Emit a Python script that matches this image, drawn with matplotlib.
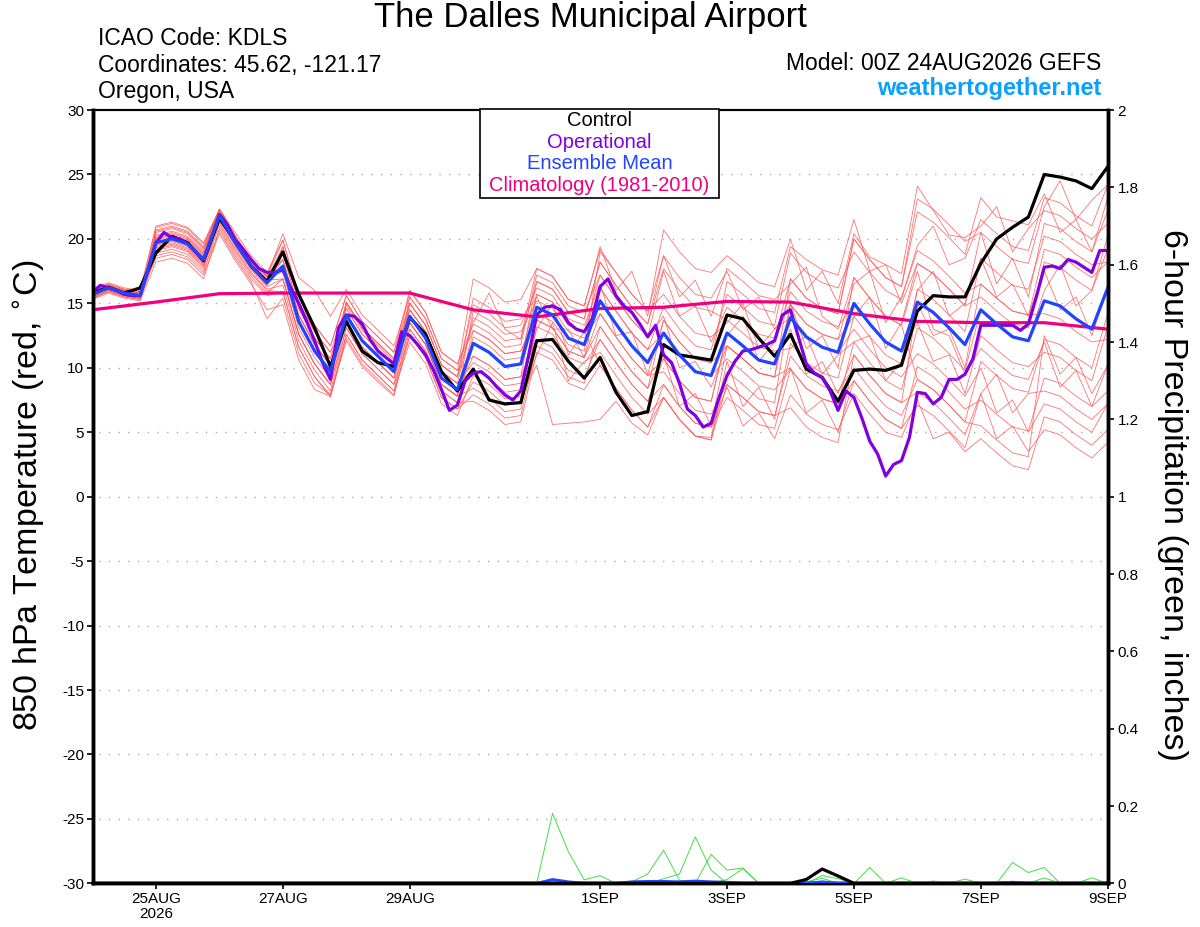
import matplotlib
matplotlib.use("Agg")
import matplotlib.pyplot as plt
import numpy as np
from matplotlib.patches import Rectangle

plt.rcParams['font.family'] = ['Liberation Sans', 'DejaVu Sans']
plt.rcParams['axes.unicode_minus'] = False

# ---- data ----
# 6-hourly steps from 00Z 24AUG to 00Z 9SEP
hours = np.arange(65) * 6
op_hours = np.arange(129) * 3

ens_mean = [15.7, 16.2, 15.8, 15.6, 19.7, 20.0, 19.6, 18.4, 21.8, 19.7, 17.9, 16.6,
            17.9, 13.6, 11.3, 9.7, 14.1, 12.1, 10.9, 9.7, 14.0, 12.3, 9.2, 8.3,
            11.9, 11.2, 10.1, 10.3, 14.7, 14.1, 12.3, 11.8, 15.2, 13.4, 11.7, 10.4,
            12.7, 11.0, 9.7, 9.4, 12.7, 11.7, 10.6, 10.3, 13.9, 12.4, 11.6, 11.2,
            15.0, 13.4, 12.0, 11.3, 15.1, 14.3, 13.1, 11.8, 14.5, 13.4, 12.4, 12.1,
            15.2, 14.8, 13.8, 13.0, 16.2]

control = [15.8, 16.25, 15.8, 16.2, 18.9, 20.2, 19.7, 18.3, 21.6, 19.8, 17.9, 16.7,
           19.0, 15.7, 13.1, 10.1, 13.6, 11.3, 10.4, 10.1, 13.9, 12.6, 9.7, 8.2,
           9.9, 7.5, 7.2, 7.3, 12.1, 12.2, 10.5, 9.2, 10.8, 8.1, 6.3, 6.6,
           11.8, 11.0, 10.8, 10.6, 14.1, 13.8, 12.3, 10.9, 12.6, 9.9, 9.25, 7.4,
           9.8, 9.9, 9.8, 10.2, 14.4, 15.6, 15.5, 15.5, 18.1, 20.0, 20.9, 21.7,
           25.0, 24.8, 24.5, 23.9, 25.6]

# operational run, 3-hourly
operational = [15.9, 16.4, 16.2, 16.0, 15.7, 15.6, 15.6, 17.6, 19.7, 20.5, 20.1, 20.0,
               19.6, 19.0, 18.4, 20.1, 21.9, 21.1, 19.9, 19.2, 18.4, 17.7, 17.4, 17.4,
               17.6, 16.2, 15.0, 13.6, 12.1, 10.4, 9.1, 13.1, 14.1, 14.0, 13.4, 12.2,
               11.3, 10.8, 10.3, 12.8, 12.5, 11.8, 11.0, 9.8, 8.3, 6.7, 7.1, 9.0,
               9.6, 9.7, 9.2, 8.5, 7.9, 7.5, 8.2, 11.0, 14.1, 14.7, 14.8, 14.5,
               13.5, 13.0, 12.8, 13.8, 16.3, 16.9, 15.6, 14.8, 14.3, 13.4, 12.4, 13.3,
               11.0, 10.4, 8.8, 6.8, 6.3, 5.4, 5.7, 7.7, 9.4, 10.5, 11.3, 11.4,
               11.6, 11.8, 12.1, 14.1, 14.5, 12.4, 10.3, 9.6, 9.25, 8.2, 6.7, 8.2,
               7.7, 6.1, 4.3, 3.3, 1.6, 2.5, 2.8, 4.6, 8.1, 8.0, 7.2, 7.7,
               9.1, 9.1, 9.5, 10.7, 13.3, 13.3, 13.3, 13.3, 13.3, 12.9, 13.4, 15.5,
               17.8, 17.9, 17.7, 18.4, 18.2, 17.8, 17.4, 19.1, 19.1]

# climatology (1981-2010), daily at 00Z
clim_hours = np.arange(17) * 24
climatology = [14.5, 15.1, 15.75, 15.8, 15.8, 15.8, 14.5, 13.95, 14.6, 14.7, 15.15,
               15.1, 14.2, 13.6, 13.5, 13.5, 13.0]

# ensemble members (red)
members = [
    [16.0, 16.5, 16.1, 15.9, 20.9, 21.2, 20.8, 19.6, 22.3, 20.5, 18.7, 17.4, 19.9, 15.6, 13.3, 11.7,
     15.6, 13.6, 12.4, 11.2, 15.0, 13.3, 10.2, 9.3, 13.5, 15.8, 13.0, 12.2, 16.7, 16.1, 14.3, 13.8,
     18.2, 16.4, 14.7, 13.4, 18.7, 15.5, 16.8, 14.0, 17.7, 16.7, 15.6, 15.3, 16.5, 17.8, 14.0, 13.0,
     17.0, 15.4, 14.0, 13.3, 17.5, 13.0, 12.5, 9.5, 11.5, 10.4, 9.4, 9.1, 12.0, 8.5, 9.8, 7.0, 10.2],
    [15.4, 15.9, 15.5, 15.3, 18.7, 19.0, 18.6, 17.4, 21.3, 19.2, 17.4, 16.1, 16.4, 12.1, 9.8, 8.2,
     13.1, 11.1, 9.9, 8.7, 12.5, 10.8, 7.7, 6.8, 8.9, 8.2, 7.1, 7.3, 11.0, 13.5, 9.0, 10.5,
     11.2, 9.4, 7.7, 6.4, 7.7, 6.0, 4.7, 4.6, 10.5, 7.0, 8.5, 6.0, 11.9, 10.4, 9.6, 9.2,
     14.0, 15.5, 11.5, 13.5, 18.1, 17.3, 16.1, 14.8, 20.5, 16.5, 18.5, 15.5, 21.2, 20.8, 19.8, 19.0, 23.2],
    [15.9, 16.4, 16.0, 15.8, 20.2, 20.5, 20.1, 18.9, 22.3, 20.2, 18.4, 17.1, 18.9, 14.6, 12.3, 10.7,
     14.6, 12.6, 11.4, 10.2, 14.5, 12.8, 9.7, 8.8, 13.9, 13.2, 12.1, 12.3, 17.7, 17.1, 15.3, 14.8,
     19.4, 16.0, 17.5, 14.0, 20.7, 19.0, 17.7, 17.4, 18.7, 17.7, 16.6, 16.3, 20.0, 16.0, 17.5, 15.0,
     20.4, 18.6, 18.0, 17.3, 24.1, 22.2, 20.3, 20.1, 21.0, 22.5, 19.0, 20.8, 22.2, 21.8, 20.8, 20.0, 21.2],
    [15.5, 16.0, 15.6, 15.4, 18.9, 19.2, 18.8, 17.6, 20.6, 18.5, 16.7, 13.8, 15.4, 11.1, 8.8, 7.9,
     12.1, 10.1, 8.9, 7.8, 13.0, 11.3, 8.2, 7.3, 7.4, 6.7, 5.6, 5.8, 11.2, 10.6, 8.8, 8.3,
     10.2, 8.4, 6.7, 5.4, 8.7, 7.0, 5.7, 5.4, 8.5, 5.5, 6.5, 4.5, 7.9, 6.4, 5.6, 5.2,
     8.0, 6.4, 5.0, 4.6, 7.5, 4.5, 5.0, 3.5, 4.5, 3.4, 2.4, 2.1, 6.2, 5.8, 4.8, 4.0, 5.2],
    [15.8, 16.3, 15.9, 15.7, 20.0, 20.3, 19.9, 18.7, 21.8, 19.7, 17.9, 16.6, 18.4, 14.1, 11.8, 10.2,
     15.1, 13.1, 11.9, 10.7, 16.0, 14.3, 11.2, 10.3, 12.9, 12.2, 11.1, 11.3, 13.7, 13.1, 11.3, 10.8,
     13.2, 11.4, 9.7, 8.4, 11.0, 7.0, 8.0, 5.5, 11.7, 10.7, 9.6, 9.3, 14.9, 13.4, 12.6, 12.2,
     16.5, 17.5, 13.5, 15.5, 19.1, 18.3, 17.1, 15.8, 16.5, 15.4, 14.4, 14.1, 17.5, 14.5, 15.5, 12.5, 16.2],
    [15.6, 16.1, 15.7, 15.5, 19.4, 19.7, 19.3, 18.1, 21.5, 19.4, 17.6, 16.3, 16.9, 12.6, 10.3, 8.7,
     13.6, 11.6, 10.4, 9.2, 14.5, 12.8, 9.7, 8.8, 9.9, 9.2, 8.1, 8.3, 13.0, 15.0, 11.0, 12.8,
     16.2, 14.4, 12.7, 11.4, 14.7, 13.0, 11.7, 11.4, 15.7, 14.7, 13.6, 13.3, 18.9, 17.4, 16.6, 16.2,
     19.0, 17.4, 16.0, 15.3, 19.5, 21.0, 18.0, 18.5, 21.5, 20.4, 19.4, 19.1, 23.2, 22.8, 21.8, 21.0, 24.2],
    [16.1, 16.6, 16.2, 16.0, 21.0, 21.3, 20.9, 19.7, 22.3, 20.2, 18.4, 17.1, 20.4, 17.0, 16.0, 14.0,
     16.1, 14.1, 12.9, 11.7, 15.5, 13.8, 10.7, 9.8, 16.9, 16.2, 15.1, 15.3, 17.7, 17.1, 15.3, 14.8,
     19.2, 17.4, 15.7, 14.4, 15.7, 14.0, 12.7, 12.4, 13.5, 15.0, 11.5, 13.0, 13.9, 12.4, 11.6, 11.2,
     13.0, 11.4, 10.0, 9.3, 11.1, 10.3, 9.1, 7.8, 10.0, 6.5, 7.5, 5.0, 7.2, 6.8, 5.8, 5.0, 7.2],
    [15.3, 15.8, 15.4, 15.2, 18.2, 18.5, 18.1, 16.9, 20.8, 18.7, 16.9, 15.6, 15.9, 11.6, 9.3, 7.7,
     12.6, 10.6, 9.4, 8.2, 12.0, 10.3, 7.2, 6.3, 9.4, 8.7, 7.6, 7.8, 10.2, 5.6, 5.7, 5.8,
     6.0, 7.4, 5.7, 4.8, 7.7, 6.0, 4.7, 4.4, 8.7, 7.7, 6.6, 6.3, 10.9, 9.4, 8.6, 8.2,
     10.0, 8.4, 7.0, 6.3, 9.1, 8.3, 7.1, 5.8, 10.5, 9.4, 8.4, 8.1, 12.2, 11.8, 10.8, 10.0, 14.2],
    [15.7, 16.2, 15.8, 15.6, 20.3, 20.6, 20.2, 19.0, 22.3, 20.2, 18.4, 17.1, 18.4, 14.1, 11.8, 10.2,
     14.1, 12.1, 10.9, 9.7, 13.5, 11.8, 8.7, 7.8, 12.4, 11.7, 10.6, 10.8, 15.7, 15.1, 13.3, 12.8,
     17.2, 15.4, 13.7, 12.4, 17.5, 14.0, 14.8, 12.0, 14.7, 13.7, 12.6, 12.3, 16.9, 15.4, 14.6, 14.2,
     20.0, 18.4, 17.0, 16.3, 22.1, 21.3, 20.1, 18.8, 23.2, 21.7, 21.4, 21.1, 23.5, 20.5, 21.5, 19.0, 22.2],
    [15.9, 16.4, 16.0, 15.8, 19.2, 19.5, 19.1, 17.9, 21.0, 18.9, 17.1, 15.8, 16.9, 12.6, 10.3, 8.7,
     13.1, 11.1, 9.9, 8.7, 14.0, 12.3, 9.2, 8.3, 10.9, 10.2, 9.1, 9.3, 12.2, 11.6, 9.8, 9.3,
     12.2, 10.4, 8.7, 7.4, 10.7, 9.0, 7.7, 7.4, 12.7, 11.7, 10.6, 10.3, 13.0, 9.5, 10.5, 8.0,
     11.0, 9.4, 8.0, 7.3, 8.1, 7.3, 6.1, 4.8, 8.0, 4.5, 5.5, 3.5, 5.2, 4.8, 3.8, 3.0, 4.2],
    [15.5, 16.0, 15.6, 15.4, 20.5, 20.8, 20.4, 19.2, 22.1, 20.0, 18.2, 16.9, 19.4, 15.1, 12.8, 11.2,
     14.9, 12.9, 11.7, 10.5, 15.0, 13.3, 10.2, 9.3, 14.9, 14.2, 13.1, 13.3, 16.2, 15.6, 13.8, 13.3,
     16.5, 12.5, 12.8, 9.5, 13.7, 12.0, 10.7, 10.4, 16.7, 15.7, 14.6, 14.3, 19.4, 18.4, 17.6, 17.2,
     21.5, 17.5, 18.0, 15.0, 18.1, 17.3, 16.1, 14.8, 15.5, 14.4, 13.4, 13.1, 18.2, 17.8, 16.8, 16.0, 20.2],
    [16.0, 16.5, 16.1, 15.9, 19.5, 19.8, 19.4, 18.2, 22.3, 20.2, 18.4, 17.1, 17.4, 13.1, 10.8, 9.2,
     13.6, 11.6, 10.4, 9.2, 13.0, 11.3, 8.2, 7.3, 11.9, 11.2, 10.1, 10.3, 16.7, 16.1, 14.3, 13.8,
     18.2, 16.4, 14.7, 13.4, 17.7, 16.0, 14.7, 14.4, 13.7, 12.7, 11.6, 11.3, 11.5, 12.5, 9.5, 11.0,
     12.0, 10.4, 9.0, 8.3, 13.1, 12.3, 11.1, 9.8, 14.5, 13.4, 12.4, 12.1, 16.0, 18.0, 14.8, 16.0, 19.2],
    [15.4, 15.9, 15.5, 15.3, 20.7, 21.0, 20.6, 19.4, 22.3, 20.2, 18.4, 17.1, 17.9, 13.6, 11.3, 9.7,
     15.1, 13.1, 11.9, 10.7, 14.5, 12.8, 9.7, 8.8, 10.4, 9.7, 8.6, 8.8, 13.7, 13.1, 11.3, 10.8,
     16.2, 14.4, 12.7, 11.4, 12.7, 11.0, 9.7, 9.4, 10.7, 9.7, 8.6, 8.3, 9.9, 8.4, 7.6, 7.2,
     9.0, 7.4, 6.0, 5.3, 10.1, 9.3, 8.1, 6.8, 7.5, 6.4, 5.4, 5.1, 9.2, 8.8, 7.8, 7.0, 8.2],
    [15.8, 16.3, 15.9, 15.7, 19.1, 19.4, 19.0, 17.8, 21.6, 19.5, 17.7, 16.4, 18.9, 14.6, 12.3, 10.7,
     14.6, 12.6, 11.4, 10.2, 13.5, 11.8, 8.7, 7.8, 14.4, 13.7, 12.6, 12.8, 15.2, 14.6, 12.8, 12.3,
     14.2, 12.4, 10.7, 9.4, 10.7, 9.0, 7.7, 7.4, 12.5, 14.0, 10.5, 12.0, 15.9, 14.4, 13.6, 13.2,
     15.0, 13.4, 12.0, 11.3, 13.5, 10.5, 11.0, 8.0, 12.5, 11.4, 10.4, 10.1, 11.2, 10.8, 9.8, 9.0, 13.2],
    [15.7, 16.2, 15.8, 15.6, 19.9, 20.2, 19.8, 18.6, 21.2, 19.1, 17.3, 16.0, 15.9, 11.6, 9.3, 7.9,
     12.6, 10.6, 9.4, 8.2, 13.5, 11.8, 8.7, 7.8, 8.4, 7.7, 6.6, 6.8, 13.2, 12.6, 10.8, 10.3,
     12.2, 10.4, 8.7, 7.4, 8.7, 7.0, 5.7, 5.4, 7.7, 6.7, 5.6, 5.3, 9.9, 8.4, 7.6, 7.2,
     12.0, 12.5, 9.0, 10.5, 16.1, 15.3, 14.1, 12.8, 18.5, 15.5, 16.5, 14.0, 19.2, 18.8, 17.8, 17.0, 18.2],
    [15.6, 16.1, 15.7, 15.5, 20.6, 20.9, 20.5, 19.3, 22.3, 20.2, 18.4, 17.1, 19.9, 15.6, 13.3, 11.7,
     15.6, 13.6, 12.4, 11.2, 16.0, 14.3, 11.2, 10.3, 13.4, 12.7, 11.6, 11.8, 17.2, 16.6, 14.8, 14.3,
     17.2, 15.4, 13.7, 12.4, 14.0, 10.0, 10.5, 8.5, 11.7, 10.7, 9.6, 9.3, 16.9, 15.4, 14.6, 14.2,
     20.0, 18.4, 17.0, 16.3, 23.1, 22.3, 21.1, 19.8, 20.5, 19.4, 18.4, 18.1, 22.5, 24.5, 21.5, 23.0, 24.2],
    [15.9, 16.4, 16.0, 15.8, 18.5, 18.8, 18.4, 17.2, 20.4, 18.3, 16.5, 14.5, 14.9, 10.6, 8.3, 7.8,
     12.3, 10.3, 9.1, 7.9, 12.5, 10.8, 7.7, 6.8, 7.9, 7.2, 6.1, 6.3, 11.7, 11.1, 9.3, 8.8,
     13.2, 11.4, 9.7, 8.4, 13.7, 12.0, 10.7, 10.4, 11.7, 10.7, 9.6, 9.3, 10.0, 6.5, 7.5, 5.0,
     9.0, 7.4, 6.0, 5.3, 7.1, 6.3, 5.1, 3.8, 8.0, 9.5, 6.5, 8.0, 8.2, 7.8, 6.8, 6.0, 7.2],
    [15.5, 16.0, 15.6, 15.4, 20.1, 20.4, 20.0, 18.8, 22.3, 20.2, 18.4, 17.1, 18.4, 14.1, 11.8, 10.2,
     14.1, 12.1, 10.9, 9.7, 15.0, 13.3, 10.2, 9.3, 15.4, 14.7, 13.6, 13.8, 15.5, 13.0, 13.0, 10.8,
     14.2, 12.4, 10.7, 9.4, 9.7, 8.0, 6.7, 6.4, 8.7, 7.7, 6.6, 6.3, 6.9, 5.4, 4.6, 4.2,
     11.0, 9.4, 8.0, 7.3, 15.0, 12.5, 13.0, 10.0, 16.5, 15.4, 14.4, 14.1, 14.2, 13.8, 12.8, 12.0, 12.2],
    [15.8, 16.3, 15.9, 15.7, 19.3, 19.6, 19.2, 18.0, 22.0, 19.9, 18.1, 16.8, 16.9, 12.6, 10.3, 8.7,
     15.1, 13.1, 11.9, 10.7, 13.5, 11.8, 8.7, 7.8, 12.9, 12.2, 11.1, 11.3, 14.2, 13.6, 11.8, 11.3,
     19.0, 17.4, 15.7, 14.4, 18.7, 17.0, 15.7, 15.4, 17.5, 14.5, 15.5, 13.0, 14.9, 13.4, 12.6, 12.2,
     14.0, 12.4, 11.0, 10.3, 16.0, 17.5, 14.0, 15.0, 18.5, 17.4, 16.4, 16.1, 20.2, 19.8, 18.8, 18.0, 18.2],
    [15.6, 16.2, 15.6, 15.5, 19.7, 20.0, 19.6, 18.4, 21.6, 19.5, 17.7, 16.4, 19.4, 15.1, 12.8, 11.2,
     13.6, 11.6, 10.4, 9.2, 15.5, 13.8, 10.7, 9.8, 10.9, 10.2, 9.1, 9.3, 15.7, 15.1, 13.3, 12.8,
     10.2, 8.4, 6.7, 5.4, 7.7, 6.0, 4.7, 4.4, 9.7, 8.7, 7.6, 7.3, 15.0, 11.5, 12.5, 10.0,
     17.0, 15.4, 14.0, 13.3, 9.1, 8.3, 7.1, 5.8, 5.5, 4.4, 3.4, 3.1, 12.5, 9.5, 10.8, 8.0, 10.2],
]

# 6-hour precipitation (inches); members listed only where non-zero
pcp_members = [
    {29: 0.181, 30: 0.082, 31: 0.009, 32: 0.020},
    {34: 0.004, 35: 0.024, 36: 0.086, 37: 0.008},
    {36: 0.012, 37: 0.024, 38: 0.120, 39: 0.034},
    {39: 0.075, 40: 0.034, 41: 0.040},
    {40: 0.010, 41: 0.038},
    {46: 0.020, 47: 0.012, 49: 0.041, 51: 0.014, 53: 0.006},
    {45: 0.004, 46: 0.013, 55: 0.011, 58: 0.054, 59: 0.028, 60: 0.041},
    {57: 0.004, 60: 0.014, 63: 0.014},
]
pcp_control = {45: 0.010, 46: 0.037, 47: 0.019}
pcp_mean = {29: 0.010, 30: 0.004, 34: 0.004, 35: 0.005, 36: 0.005, 37: 0.004,
            38: 0.006, 39: 0.004, 40: 0.003, 46: 0.004, 58: 0.003}

tick_hours = [24, 72, 120, 192, 240, 288, 336, 384]
tick_labels = ["25AUG\n2026", "27AUG", "29AUG", "1SEP", "3SEP", "5SEP", "7SEP", "9SEP"]

# colours
c_member = "#ff5a5a"
c_op = "#8000e0"
c_mean = "#2244ff"
c_clim = "#f0007c"
c_pcp = "#44dd44"


def sparse(d):
    arr = np.zeros(len(hours))
    for k, v in d.items():
        arr[k] = v
    return arr


fig = plt.figure(figsize=(12, 9.27), dpi=100)
ax = fig.add_axes([0.0771, 0.0471, 0.846, 0.8342])
ax2 = ax.twinx()

# temperature lines
for m in members:
    ax.plot(hours, m, color=c_member, lw=0.6, alpha=0.85, zorder=2)
ax.plot(clim_hours, climatology, color=c_clim, lw=2.3, zorder=3)
ax.plot(hours, control, color="black", lw=2.3, zorder=4)
ax.plot(op_hours, operational, color=c_op, lw=2.3, zorder=5)
ax.plot(hours, ens_mean, color=c_mean, lw=2.3, zorder=6)

# precipitation lines
for p in pcp_members:
    ax2.plot(hours, sparse(p), color=c_pcp, lw=0.7, zorder=2)
ax2.plot(hours, sparse(pcp_mean), color=c_mean, lw=2.0, zorder=3)
ax2.plot(hours, sparse(pcp_control), color="black", lw=2.3, zorder=4)

ax.set_xlim(0, 384)
ax.set_ylim(-30, 30)
ax2.set_ylim(0, 2)
ax.set_yticks(np.arange(-30, 31, 5))
ax2.set_yticks(np.arange(0, 2.01, 0.2))
ax2.set_yticklabels(["0", "0.2", "0.4", "0.6", "0.8", "1", "1.2", "1.4", "1.6", "1.8", "2"])
ax.set_xticks(tick_hours)
ax.set_xticklabels(tick_labels, linespacing=1.1)

for y in range(-25, 30, 5):
    ax.axhline(y, color="#aaaaaa", lw=1.0, ls=(3, (1, 6)), zorder=1)

ax.tick_params(axis="both", direction="out", length=4, width=1.2, labelsize=11, pad=2)
ax2.tick_params(axis="y", direction="out", length=4, width=1.2, labelsize=11, pad=3)

for a in (ax, ax2):
    a.spines["left"].set_linewidth(2.5)
    a.spines["right"].set_linewidth(2.5)
    a.spines["bottom"].set_linewidth(2.5)
    a.spines["top"].set_linewidth(1.5)

# legend box
fig.patches.append(Rectangle((0.4, 0.7864), 0.1992, 0.096, transform=fig.transFigure,
                             facecolor="white", edgecolor="black", lw=1.2, zorder=10))
leg = [("Control", "black"), ("Operational", c_op), ("Ensemble Mean", c_mean),
       ("Climatology (1981-2010)", c_clim)]
for k, (txt, col) in enumerate(leg):
    fig.text(0.4996, 0.8695 - k * 0.0232, txt, color=col, fontsize=14.5, ha="center",
             va="center", zorder=11)

# header text
fig.text(0.4917, 0.9806, "The Dalles Municipal Airport", fontsize=25, ha="center", va="center")
fig.text(0.0817, 0.958, "ICAO Code: KDLS", fontsize=16.5, ha="left", va="center")
fig.text(0.0817, 0.929, "Coordinates: 45.62, -121.17", fontsize=16.5, ha="left", va="center")
fig.text(0.0817, 0.901, "Oregon, USA", fontsize=16.5, ha="left", va="center")
fig.text(0.9175, 0.932, "Model: 00Z 24AUG2026 GEFS", fontsize=16.5, ha="right", va="center")
fig.text(0.9175, 0.904, "weathertogether.net", fontsize=17, ha="right", va="center",
         color="#0aa0ff", fontweight="bold")

# axis titles
fig.text(0.025, 0.466, "850 hPa Temperature (red, $^{\\circ}$C)", fontsize=24.5, rotation=90,
         ha="center", va="center")
fig.text(0.977, 0.466, "6-hour Precipitation (green, inches)", fontsize=24.5, rotation=-90,
         ha="center", va="center")

fig.savefig("out.png", dpi=100)
